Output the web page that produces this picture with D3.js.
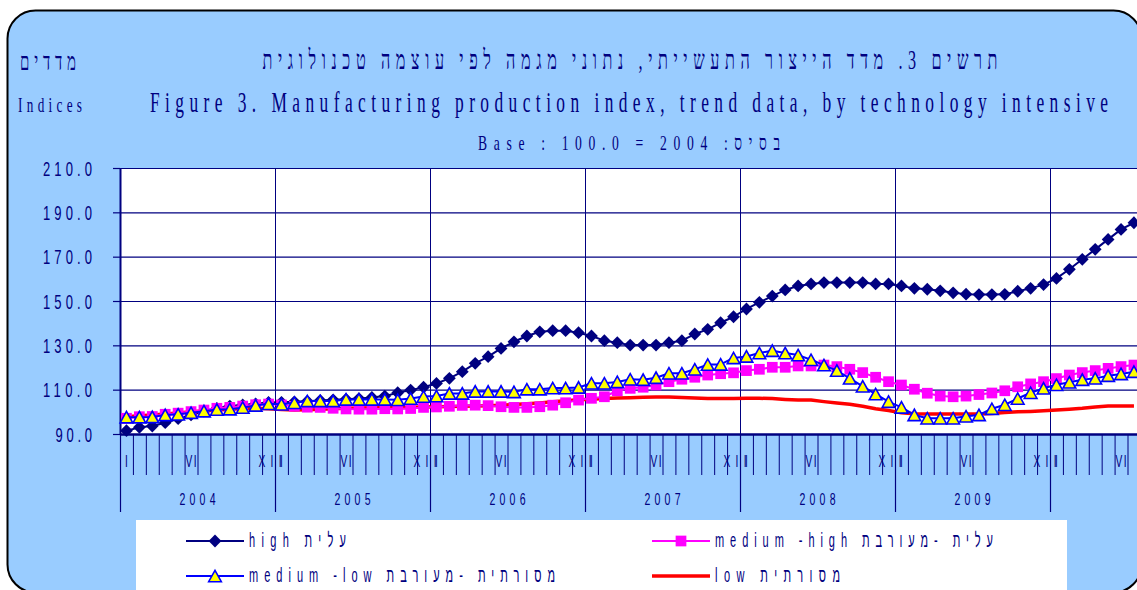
<!DOCTYPE html>
<html>
<head>
<meta charset="utf-8">
<script src="https://cdn.jsdelivr.net/npm/d3@7"></script>
<style>
  body { margin: 0; background: #fff; }
  svg { display: block; }
</style>
</head>
<body>
<div id="chart"></div>
<script>
// monthly trend data, Jan 2004 .. Jul 2010
const high = [
  91.5, 93.0, 93.6, 95.1, 96.9, 98.6, 100.3, 101.6, 102.6, 103.1, 103.6, 104.2,
  104.3, 104.5, 104.8, 105.1, 105.4, 105.7, 106.0, 106.5, 107.1, 108.6, 109.8, 111.1,
  112.8, 115.1, 118.1, 121.9, 124.9, 128.6, 131.6, 134.2, 136.1, 136.6, 136.6, 135.7,
  134.2, 132.1, 131.2, 130.1, 130.1, 130.1, 131.2, 132.1, 135.1, 137.2, 140.2, 142.9,
  146.4, 149.4, 152.2, 155.0, 156.8, 157.7, 158.3, 158.3, 158.3, 158.3, 157.7, 157.7,
  156.8, 155.7, 155.3, 154.6, 153.7, 153.1, 152.9, 152.9, 153.0, 154.4, 155.7, 157.4,
  160.2, 164.3, 168.8, 173.3, 177.8, 182.3, 185.3
];
const medHigh = [
  97.1, 97.8, 97.9, 98.9, 99.4, 100.1, 100.8, 101.6, 102.0, 102.6, 103.2, 103.5,
  103.1, 102.5, 102.1, 102.0, 101.6, 101.3, 101.2, 101.2, 101.4, 101.3, 101.5, 102.0,
  102.2, 102.5, 102.9, 103.0, 102.8, 102.3, 102.0, 102.0, 102.3, 103.0, 104.1, 105.3,
  106.1, 106.8, 109.5, 110.6, 111.1, 112.1, 113.6, 114.7, 115.6, 116.6, 117.2, 117.6,
  118.6, 119.2, 120.1, 120.1, 120.7, 120.7, 121.1, 120.4, 119.2, 117.7, 115.6, 113.6,
  112.1, 110.2, 108.4, 107.1, 106.8, 107.1, 107.8, 108.5, 109.5, 111.3, 112.6, 113.6,
  115.0, 116.6, 117.7, 118.6, 119.6, 120.4, 121.1
];
const medLow = [
  97.6, 97.6, 97.7, 98.6, 98.9, 99.6, 100.3, 101.0, 101.2, 101.9, 102.9, 103.6,
  103.4, 104.1, 104.9, 104.9, 104.9, 105.6, 105.6, 105.6, 105.6, 105.4, 106.0, 106.9,
  107.1, 108.3, 108.3, 109.2, 109.2, 109.2, 109.0, 110.2, 110.2, 110.7, 110.7, 111.0,
  112.9, 112.9, 113.5, 114.7, 114.5, 115.4, 117.4, 117.4, 119.2, 121.3, 121.4, 124.3,
  125.0, 126.5, 127.6, 126.5, 125.6, 123.5, 121.1, 118.6, 115.1, 111.5, 108.0, 104.6,
  102.0, 98.6, 97.1, 97.1, 97.1, 98.0, 98.6, 101.4, 103.2, 106.0, 108.6, 110.6,
  112.2, 113.3, 114.5, 115.1, 116.3, 117.1, 118.1
];
const low = [
  97.8, 98.2, 98.6, 99.0, 99.5, 100.0, 100.4, 100.8, 101.2, 101.5, 101.6, 101.4,
  101.0, 100.8, 100.9, 101.2, 101.4, 101.6, 101.7, 101.8, 101.9, 102.0, 102.1, 102.2,
  102.3, 102.4, 102.5, 102.6, 102.8, 103.0, 103.3, 103.6, 104.0, 104.5, 105.0, 105.4,
  105.7, 106.0, 106.2, 106.4, 106.6, 106.7, 106.7, 106.5, 106.2, 106.0, 106.0, 106.0,
  106.1, 106.1, 106.0, 105.6, 105.3, 105.3, 104.6, 104.0, 103.4, 102.5, 101.4, 100.6,
  99.6, 99.1, 99.0, 99.0, 99.0, 99.0, 99.0, 99.3, 99.7, 100.0, 100.2, 100.5,
  100.8, 101.2, 101.6, 102.2, 102.6, 102.6, 102.6
];

const years = ["2004", "2005", "2006", "2007", "2008", "2009"];
const monthLabels = ["I", "VI", "XII"];
const monthLabelIdx = [0, 5, 11];
const yTicks = [90, 110, 130, 150, 170, 190, 210];
const seriesNames = ["high עלית", "medium -high עלית -מעורבת", "medium -low מסורתית -מעורבת", "low מסורתית"];

const NAVY = "#000080";
const SANS = "'Liberation Sans', Arial, sans-serif";
const SERIF = "'Liberation Serif', 'DejaVu Serif', serif";
const W = 1137, H = 590;

const svg = d3.select("#chart").append("svg")
  .attr("width", W)
  .attr("height", H);

// condensed, spaced-out text like the original
function txt(parent, s, x, y, o) {
  const sx = o.sx || 1;
  const t = parent.append("text")
    .attr("transform", `translate(${x},${y}) scale(${sx},1)`)
    .attr("text-anchor", o.anchor || "start")
    .attr("font-family", o.family || SANS)
    .attr("font-size", o.size)
    .attr("fill", NAVY)
    .text(s);
  if (o.width) t.attr("textLength", o.width / sx).attr("lengthAdjust", "spacing");
  if (o.dir) t.attr("direction", o.dir);
  return t;
}

// frame
svg.append("rect")
  .attr("x", 7.5).attr("y", 10.5)
  .attr("width", 1134).attr("height", 582)
  .attr("rx", 28)
  .attr("fill", "#99CCFF")
  .attr("stroke", "#000")
  .attr("stroke-width", 2);

const x = d3.scaleLinear().domain([0, 84]).range([120, 120 + 84 * 155 / 12]);
const y = d3.scaleLinear().domain([90, 210]).range([434, 168]);
const x0 = x(0), x1 = x(84);

// titles
txt(svg, "תרשים 3. מדד הייצור התעשייתי, נתוני מגמה לפי עוצמה טכנולוגית", 630, 69,
  { size: 27, family: SERIF, sx: 0.6, width: 735, anchor: "middle", dir: "rtl" });
txt(svg, "Figure 3. Manufacturing production index, trend data, by technology intensive", 629, 112,
  { size: 30, family: SERIF, sx: 0.58, width: 958, anchor: "middle" });
txt(svg, "Base : 100.0 = 2004 :בסיס", 629, 150,
  { size: 22, family: SERIF, sx: 0.62, width: 302, anchor: "middle" });
txt(svg, "מדדים", 48, 70, { size: 25, family: SERIF, sx: 0.6, width: 56, anchor: "middle", dir: "rtl" });
txt(svg, "Indices", 50, 112, { size: 22, family: SERIF, sx: 0.6, width: 64, anchor: "middle" });

// plot area
svg.append("rect")
  .attr("x", x0).attr("y", y(210))
  .attr("width", x1 - x0).attr("height", y(90) - y(210))
  .attr("fill", "#fff");

// horizontal grid
svg.append("g")
  .attr("transform", `translate(${x0},0)`)
  .call(d3.axisLeft(y).tickValues(yTicks).tickSize(-(x1 - x0)).tickFormat(""))
  .call(g => g.select(".domain").remove())
  .selectAll("line").attr("stroke", NAVY).attr("stroke-width", 1.2);

// vertical year grid
svg.append("g")
  .attr("transform", `translate(0,${y(90)})`)
  .call(d3.axisBottom(x).tickValues(d3.range(12, 84, 12)).tickSize(-(y(90) - y(210))).tickFormat(""))
  .call(g => g.select(".domain").remove())
  .selectAll("line").attr("stroke", NAVY).attr("stroke-width", 1);

// month ticks below the axis
svg.append("g")
  .attr("transform", `translate(0,${y(90)})`)
  .call(d3.axisBottom(x).tickValues(d3.range(1, 84).filter(m => m % 12)).tickSize(41).tickFormat(""))
  .call(g => g.select(".domain").remove())
  .selectAll("line").attr("stroke", NAVY).attr("stroke-width", 1);

// year separators below the axis
svg.append("g")
  .attr("transform", `translate(0,${y(90)})`)
  .call(d3.axisBottom(x).tickValues(d3.range(0, 85, 12)).tickSize(78).tickFormat(""))
  .call(g => g.select(".domain").remove())
  .selectAll("line").attr("stroke", NAVY).attr("stroke-width", 1.2);

// left axis with outer ticks
svg.append("g")
  .attr("transform", `translate(${x0},0)`)
  .call(d3.axisLeft(y).tickValues(yTicks).tickSize(7).tickSizeOuter(0).tickFormat(""))
  .call(g => g.select(".domain").attr("stroke", NAVY).attr("stroke-width", 2))
  .selectAll("line").attr("stroke", NAVY).attr("stroke-width", 1.2);

// bottom axis line
svg.append("g")
  .attr("transform", `translate(0,${y(90)})`)
  .call(d3.axisBottom(x).tickValues([]).tickSizeOuter(0))
  .select(".domain").attr("stroke", NAVY).attr("stroke-width", 2.5);

// y labels
yTicks.forEach(v => {
  const s = d3.format(".1f")(v);
  txt(svg, s, 92, y(v) + 7.5, { size: 21, sx: 0.62, width: s.length * 12.4 - 13, anchor: "end" });
});

// month labels (only those that fall inside the picture)
d3.range(7).forEach(yr => {
  monthLabels.forEach((lab, k) => {
    const m = yr * 12 + monthLabelIdx[k];
    if (x(m + 0.5) > W - 10) return;
    const w = lab.length > 1 ? (lab.length === 2 ? 11 : 23) : 0;
    txt(svg, lab, x(m + 0.5) + (lab === "XII" ? 1.5 : 0), 467,
      { size: 17, sx: 0.6, width: w || null, anchor: "middle" });
  });
});

// year labels
years.forEach((yr, k) => {
  txt(svg, yr, x(k * 12 + 6), 505, { size: 17, sx: 0.62, width: 36, anchor: "middle" });
});

// series
const line = d3.line().x((d, i) => x(i + 0.5)).y(d => y(d));

const triBox = {
  draw(ctx, size) {
    const w = Math.sqrt(size), h = w * 0.9;
    ctx.moveTo(0, -h / 2);
    ctx.lineTo(w / 2, h / 2);
    ctx.lineTo(-w / 2, h / 2);
    ctx.closePath();
  }
};

const series = [
  { data: high, stroke: NAVY, width: 2, symbol: d3.symbol(d3.symbolSquare, 82)(), rotate: 45, fill: NAVY, mstroke: "none" },
  { data: medHigh, stroke: "#FF00FF", width: 2, symbol: d3.symbol(d3.symbolSquare, 115)(), rotate: 0, fill: "#FF00FF", mstroke: "none" },
  { data: medLow, stroke: "#0000FF", width: 2, symbol: d3.symbol(triBox, 160)(), rotate: 0, fill: "#FFFF00", mstroke: "#0000FF" },
  { data: low, stroke: "#FF0000", width: 3.5, symbol: null }
];

const drawOrder = [0, 3, 1, 2];
drawOrder.forEach(k => {
  const s = series[k];
  svg.append("path")
    .datum(s.data)
    .attr("d", line)
    .attr("fill", "none")
    .attr("stroke", s.stroke)
    .attr("stroke-width", s.width)
    .attr("stroke-linejoin", "round");
  if (s.symbol) {
    svg.append("g").selectAll("path")
      .data(s.data)
      .join("path")
      .attr("d", s.symbol)
      .attr("transform", (d, i) => `translate(${x(i + 0.5)},${y(d)}) rotate(${s.rotate})`)
      .attr("fill", s.fill)
      .attr("stroke", s.mstroke)
      .attr("stroke-width", 1.6);
  }
});

// legend
const lg = svg.append("g");
lg.append("rect")
  .attr("x", 136).attr("y", 520)
  .attr("width", 931).attr("height", 80)
  .attr("fill", "#fff");

const legendPos = [[186, 541], [652, 541], [186, 576], [652, 576]];
const legendWidth = [97, 278, 306, 125];
series.forEach((s, k) => {
  const [lx, ly] = legendPos[k];
  lg.append("line")
    .attr("x1", lx).attr("x2", lx + 58)
    .attr("y1", ly).attr("y2", ly)
    .attr("stroke", s.stroke)
    .attr("stroke-width", s.width);
  if (s.symbol) {
    lg.append("path")
      .attr("d", s.symbol)
      .attr("transform", `translate(${lx + 29},${ly}) rotate(${s.rotate})`)
      .attr("fill", s.fill)
      .attr("stroke", s.mstroke)
      .attr("stroke-width", 1.6);
  }
  txt(lg, seriesNames[k], lx + 63, ly + 6, { size: 20, sx: 0.55, width: legendWidth[k] });
});
</script>
</body>
</html>
